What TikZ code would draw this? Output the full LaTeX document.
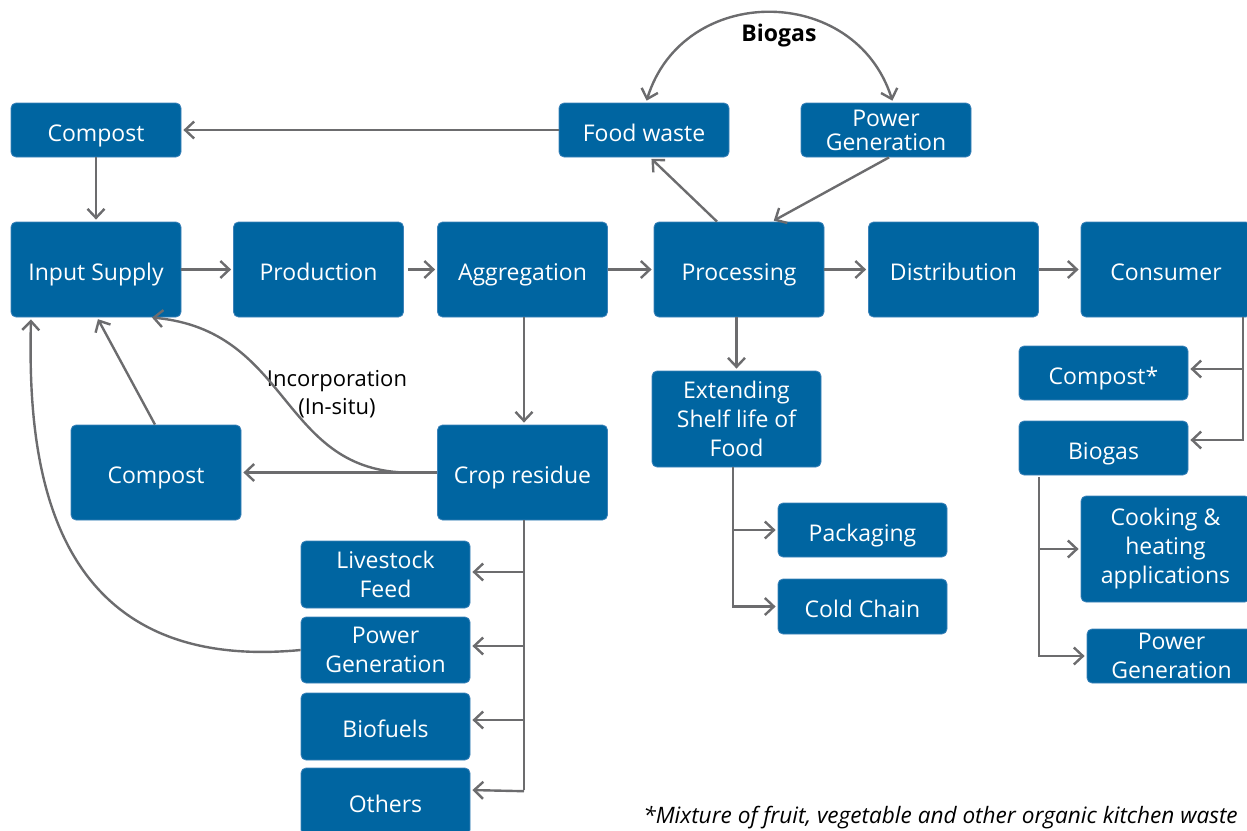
\documentclass[tikz,border=0pt]{standalone}
\usepackage{fontspec}
\setmainfont{Open Sans}
\usetikzlibrary{arrows.meta,calc}
\definecolor{boxblue}{RGB}{0,101,161}
\definecolor{boxedge}{RGB}{60,130,185}
\definecolor{arrgray}{RGB}{108,108,110}
\begin{document}
\begin{tikzpicture}[x=0.5pt,y=-0.5pt,
  box/.style={fill=boxblue, draw=boxedge, line width=0.4pt, rounded corners=2.5pt, text=white, align=center, inner sep=0pt, font=\fontsize{11.5}{14.5}\selectfont},
  one/.style={text height=12pt, text depth=1pt},
  conn/.style={draw=arrgray, line width=1.2pt},
  tip/.tip={Straight Barb[length=4.5pt,width=8.5pt,line width=1.2pt]},
  arr/.style={conn, -tip, shorten >=1pt},
  arrs/.style={conn, tip-tip, shorten >=1pt, shorten <=1pt},
  lbl/.style={text=black, align=center, inner sep=0pt, font=\fontsize{11}{14}\selectfont}]
\useasboundingbox (0,0) rectangle (1247,830);
\clip (0,0) rectangle (1247,830);
% top row
\node[box, one, minimum width=85pt, minimum height=27pt] (comptop) at (96,130) {Compost};
\node[box, one, minimum width=85pt, minimum height=27pt] (food) at (644,130) {Food waste};
\node[box, minimum width=85pt, minimum height=27pt, font=\fontsize{11.5}{12}\selectfont] (pgtop) at (886,130) {Power\\Generation};
% main row
\node[box, one, minimum width=85pt, minimum height=47.5pt] (input) at (96,269.5) {Input Supply};
\node[box, one, minimum width=85pt, minimum height=47.5pt] (prod) at (318.5,269.5) {Production};
\node[box, one, minimum width=85pt, minimum height=47.5pt] (aggr) at (522.5,269.5) {Aggregation};
\node[box, one, minimum width=85pt, minimum height=47.5pt] (proc) at (739,269.5) {Processing};
\node[box, one, minimum width=85pt, minimum height=47.5pt] (dist) at (953.5,269.5) {Distribution};
\node[box, one, minimum width=85pt, minimum height=47.5pt] (cons) at (1166,269.5) {Consumer};
% lower left
\node[box, one, minimum width=85pt, minimum height=47.5pt] (compL) at (156,472.5) {Compost};
\node[box, one, minimum width=85pt, minimum height=47.5pt] (crop) at (522.5,472.5) {Crop residue};
\node[box, minimum width=84.5pt, minimum height=33.5pt] (live) at (385.5,574.5) {Livestock\\Feed};
\node[box, minimum width=84.5pt, minimum height=33pt] (pgL) at (385.5,650) {Power\\Generation};
\node[box, one, minimum width=84.5pt, minimum height=33.5pt] (biof) at (385.5,726.5) {Biofuels};
\node[box, one, minimum width=84.5pt, minimum height=33.5pt] (others) at (385.5,801.5) {Others};
% processing branch
\node[box, minimum width=84.5pt, minimum height=48pt] (ext) at (736.5,419) {Extending\\Shelf life of\\Food};
\node[box, one, minimum width=84.5pt, minimum height=27pt] (pack) at (862.5,530) {Packaging};
\node[box, one, minimum width=84.5pt, minimum height=27.5pt] (cold) at (862.5,606.5) {Cold Chain};
% consumer branch
\node[box, one, minimum width=84.5pt, minimum height=27pt] (compS) at (1103.5,373) {Compost*};
\node[box, one, minimum width=84.5pt, minimum height=27pt] (biog) at (1103.5,448) {Biogas};
\node[box, minimum width=84.5pt, minimum height=53pt] (cook) at (1165.5,549) {Cooking \&\\heating\\applications};
\node[box, minimum width=84.5pt, minimum height=27pt] (pgR) at (1171.5,656) {Power\\Generation};
% labels
\node[lbl, font=\fontsize{11.5}{14}\selectfont\bfseries] (biolbl) at (779,36) {Biogas};
\node[lbl] (inclbl) at (337,394) {Incorporation\\(In-situ)};
\node[lbl, anchor=base west, font=\fontsize{11.3}{13}\selectfont\itshape] (note) at (643,823) {*Mixture of fruit, vegetable and other organic kitchen waste};
% connectors top
\draw[arr] (food.west) -- (comptop.east);
\draw[arr] (comptop.south) -- (input.north);
\draw[arr] ($(proc.north)+(-22,0)$) -- ($(food.south)+(6,0)$);
\draw[arr] ($(pgtop.south)+(3,0)$) -- ($(proc.north)+(33,0)$);
\draw[arrs] ($(food.north)+(2,0)$) .. controls (683,-17) and (855,-17) .. ($(pgtop.north)+(7,0)$);
% main row
\draw[arr] (input.east) -- (prod.west);
\draw[arr] ([xshift=2pt]prod.east) -- (aggr.west);
\draw[arr] (aggr.east) -- (proc.west);
\draw[arr] (proc.east) -- (dist.west);
\draw[arr] (dist.east) -- (cons.west);
% crop residue
\draw[arr] ($(aggr.south)+(1.5,0)$) -- ($(crop.north)+(1.5,0)$);
\draw[arr] (crop.west) -- (compL.east);
\coordinate (incstart) at ($(crop.west)+(-33,0)$);
\draw[arr] (incstart) .. controls (280,468) and (290,330) .. ($(input.south)+(54,0)$);
\draw[arr] ($(compL.north)+(-1,0)$) -- ($(input.south)+(1,0)$);
\draw[arr] (pgL.west) .. controls (40,675) and (28,450) .. ($(input.south)+(-65,0)$);
\coordinate (c0) at ($(crop.south)+(1.5,0)$);
\coordinate (c1) at (524,572);
\coordinate (c2) at (524,646);
\coordinate (c3) at (524,720);
\coordinate (c4) at (524,790);
\draw[conn] (c0) -- (c4);
\draw[arr] (c1) -- (live.east |- c1);
\draw[arr] (c2) -- (pgL.east |- c2);
\draw[arr] (c3) -- (biof.east |- c3);
\draw[arr] ([yshift=-0.6pt]c4) -- (others.east |- c4);
% processing branch
\draw[arr] (ext.north |- proc.south) -- (ext.north);
\coordinate (e0) at ($(ext.south)+(-3.5,0)$);
\coordinate (e2) at (e0 |- cold.west);
\draw[conn] (e0) -- (e2);
\draw[arr] (e0 |- pack.west) -- (pack.west);
\draw[arr] ([xshift=-0.6pt]e2) -- (cold.west);
% consumer branch
\coordinate (k0) at (1243,317);
\coordinate (k1) at (1243,369);
\coordinate (k2) at (1243,440);
\draw[conn] (k0) -- (k2);
\draw[arr] (k1) -- (compS.east |- k1);
\draw[arr] ([xshift=0.6pt]k2) -- (biog.east |- k2);
\coordinate (b0) at ($(biog.south)+(-64.5,2)$);
\coordinate (b1) at (b0 |- cook.west);
\coordinate (b2) at (b0 |- pgR.west);
\draw[conn] (b0) -- (b2);
\draw[arr] (b1) -- (cook.west);
\draw[arr] ([xshift=-0.6pt]b2) -- (pgR.west);
\end{tikzpicture}
\end{document}
